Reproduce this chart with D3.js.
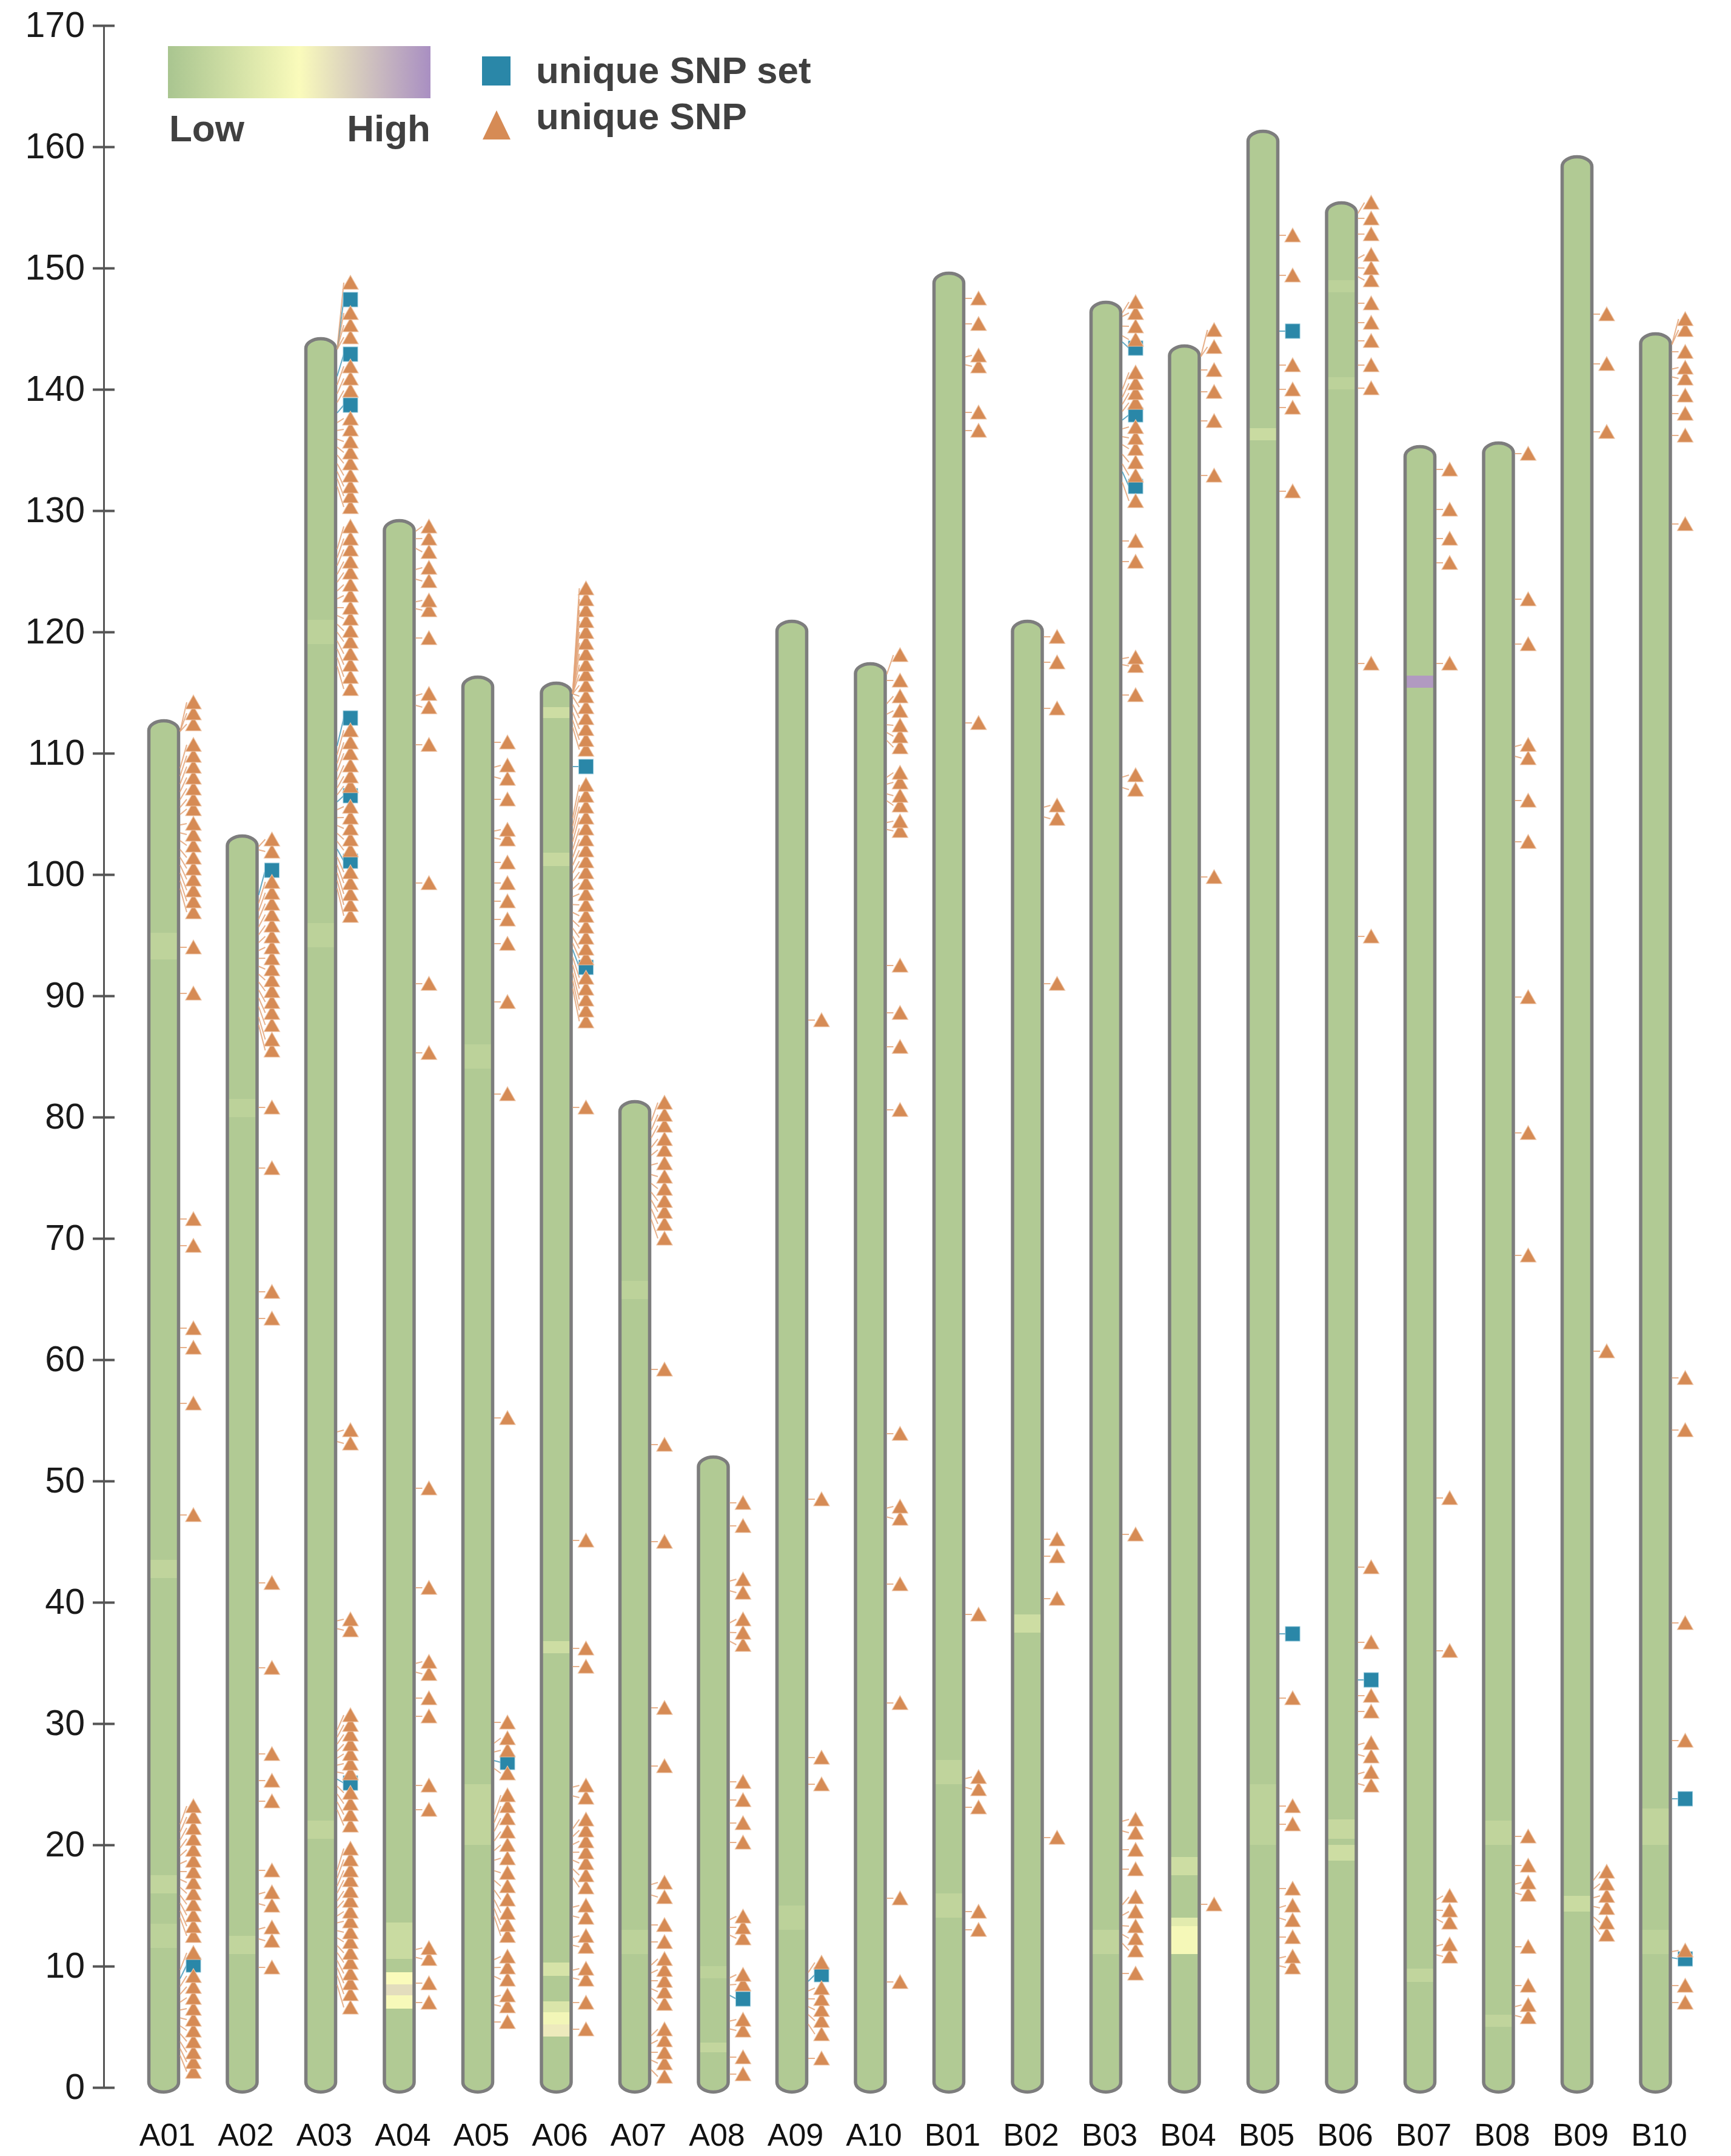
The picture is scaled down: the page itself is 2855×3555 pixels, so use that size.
<!DOCTYPE html>
<html>
<head>
<meta charset="utf-8">
<script src="https://cdnjs.cloudflare.com/ajax/libs/d3/7.8.5/d3.min.js"></script>
<style>
  body { margin: 0; background: #fff; }
  svg { display: block; }
  text { font-family: "Liberation Sans", Arial, sans-serif; }
</style>
</head>
<body>
<svg id="chart" width="2855" height="3555"></svg>
<script>
// chromosomes and their lengths (Mb)
const chromNames = ["A01","A02","A03","A04","A05","A06","A07","A08","A09","A10",
                    "B01","B02","B03","B04","B05","B06","B07","B08","B09","B10"];
const chromLengths = [112.8, 103.3, 144.3, 129.3, 116.4, 115.9, 81.4, 52.1, 121.0, 117.5,
                      149.7, 121.0, 147.3, 143.7, 161.4, 155.5, 135.4, 135.7, 159.3, 144.7];
const yTicks = [0, 10, 20, 30, 40, 50, 60, 70, 80, 90, 100, 110, 120, 130, 140, 150, 160, 170];

// unique SNP positions (triangles), as placed on the plot
const snp_A01 = [114.2, 113.3, 112.4, 110.7, 109.8, 108.9, 108.0, 107.1, 106.2, 105.4, 104.2, 103.3, 102.4,
  101.4, 100.5, 99.6, 98.7, 97.8, 96.9, 94.0, 90.2, 71.6, 69.4, 62.6, 61.0, 56.4, 47.2,
  23.2, 22.3, 21.4, 20.5, 19.6, 18.7, 17.8, 16.9, 16.0, 15.1, 14.2, 13.3, 12.5, 11.1,
  9.2, 8.3, 7.4, 6.5, 5.6, 4.7, 3.8, 2.9, 2.1, 1.3];
const snp_A02 = [102.9, 101.9, 99.4, 98.5, 97.6, 96.7, 95.8, 94.9, 94.0, 93.1, 92.2, 91.3, 90.4, 89.5,
  88.6, 87.6, 86.4, 85.5, 80.8, 75.8, 65.6, 63.4, 41.6, 34.6, 27.5, 25.3, 23.6, 17.9, 16.1, 15.0,
  13.2, 12.1, 9.9];
const snp_A03 = [148.8, 146.3, 145.3, 144.3, 141.9, 140.9, 139.9, 137.6, 136.7, 135.7, 134.8, 133.9, 132.9,
  132.0, 131.2, 130.3, 128.7, 127.7, 126.8, 125.8, 124.9, 123.9, 123.0, 122.0, 121.1, 120.1, 119.2,
  118.2, 117.3, 116.3, 115.3, 111.9, 110.9, 110.0, 109.0, 108.1, 107.3, 105.6, 104.7, 103.8, 102.9,
  102.0, 100.2, 99.3, 98.4, 97.5, 96.6, 54.2, 53.1, 38.6, 37.7, 30.7, 29.9, 29.1, 28.3, 27.5, 26.7,
  25.9, 24.3, 23.4, 22.5, 21.6, 19.7, 18.8, 17.9, 17.1, 16.2, 15.4, 14.5, 13.7, 12.8, 12.0, 11.1,
  10.3, 9.4, 8.6, 7.7, 6.6];
const snp_A04 = [128.7, 127.7, 126.6, 125.3, 124.2, 122.6, 121.8, 119.5, 114.9, 113.8, 110.7, 99.3, 91.0,
  85.3, 49.4, 41.2, 35.1, 34.1, 32.1, 30.6, 24.9, 22.9, 11.5, 10.6, 8.6, 7.0];
const snp_A05 = [110.9, 109.0, 107.9, 106.2, 103.7, 102.9, 101.0, 99.3, 97.8, 96.3, 94.3, 89.5, 81.9, 55.2,
  30.1, 28.8, 27.8, 25.9, 24.1, 23.2, 22.2, 21.1, 20.0, 18.9, 17.7, 16.6, 15.5, 14.4, 13.4, 12.5,
  10.8, 9.9, 8.9, 7.6, 6.7, 5.4];
const snp_A06 = [123.6, 122.7, 121.8, 120.9, 120.0, 119.1, 118.2, 117.3, 116.5, 115.6, 114.7, 113.8, 112.9,
  112.0, 111.1, 110.3, 107.4, 106.5, 105.6, 104.7, 103.8, 102.9, 102.0, 101.1, 100.2, 99.3, 98.4,
  97.5, 96.6, 95.7, 94.8, 93.9, 93.1, 91.5, 90.6, 89.7, 88.8, 87.9, 80.8, 45.1, 36.2, 34.7,
  24.9, 23.9, 22.1, 21.2, 20.3, 19.4, 18.5, 17.5, 16.5, 15.0, 14.0, 12.5, 11.6, 9.8, 8.9, 7.0, 4.8];
const snp_A07 = [81.2, 80.2, 79.3, 78.2, 77.3, 76.2, 75.1, 74.1, 73.1, 72.2, 71.2, 70.0, 59.2, 53.0, 45.0,
  31.3, 26.5, 16.9, 15.7, 13.4, 12.0, 10.6, 9.7, 8.8, 7.9, 6.9, 4.8, 3.9, 2.9, 2.0, 0.9];
const snp_A08 = [48.2, 46.3, 41.9, 40.8, 38.6, 37.5, 36.5, 25.2, 23.7, 21.8, 20.2, 14.1, 13.2, 12.3, 9.3,
  8.5, 5.6, 4.7, 2.5, 1.1];
const snp_A09 = [88.0, 48.5, 27.2, 25.0, 10.3, 8.2, 7.3, 6.4, 5.5, 4.4, 2.4];
const snp_A10 = [118.1, 116.0, 114.7, 113.5, 112.3, 111.4, 110.5, 108.4, 107.6, 106.5, 105.7, 104.4, 103.6,
  92.5, 88.6, 85.8, 80.6, 53.9, 47.9, 46.9, 41.5, 31.7, 15.6, 8.7];
const snp_B01 = [147.5, 145.4, 142.8, 141.9, 138.1, 136.6, 112.5, 39.0, 25.6, 24.6, 23.1, 14.5, 13.0];
const snp_B02 = [119.6, 117.5, 113.7, 105.7, 104.6, 91.0, 45.2, 43.8, 40.3, 20.6];
const snp_B03 = [147.2, 146.3, 145.2, 144.1, 141.4, 140.5, 139.7, 138.9, 136.9, 136.0, 135.1, 134.0, 132.9,
  130.8, 127.5, 125.8, 117.9, 117.2, 114.8, 108.2, 107.0, 45.6, 22.1, 21.0, 19.6, 18.0, 15.7, 14.5,
  13.3, 12.3, 11.3, 9.4];
const snp_B04 = [144.9, 143.5, 141.6, 139.8, 137.4, 132.9, 99.8, 15.1];
const snp_B05 = [152.7, 149.4, 142.0, 140.0, 138.5, 131.6, 32.1, 23.2, 21.7, 16.4, 15.0, 13.8, 12.4, 10.8, 9.9];
const snp_B06 = [155.4, 154.1, 152.8, 151.1, 150.0, 149.0, 147.1, 145.5, 144.0, 142.0, 140.1, 117.4, 94.9,
  42.9, 36.7, 32.3, 31.0, 28.4, 27.3, 26.0, 24.9];
const snp_B07 = [133.4, 130.1, 127.7, 125.7, 117.4, 48.6, 36.0, 15.8, 14.6, 13.6, 11.8, 10.8];
const snp_B08 = [134.7, 122.7, 119.0, 110.7, 109.6, 106.1, 102.7, 89.9, 78.7, 68.6, 20.7, 18.3, 16.9, 15.9,
  11.6, 8.4, 6.8, 5.8];
const snp_B09 = [146.2, 142.1, 136.5, 60.7, 17.8, 16.8, 15.8, 14.8, 13.6, 12.6];
const snp_B10 = [145.8, 144.9, 143.1, 141.8, 140.9, 139.5, 138.0, 136.2, 128.9, 58.5, 54.2, 38.3, 28.6,
  11.3, 8.4, 7.0];

// unique SNP sets (squares)
const snpSets = [
  ["A01", 10.1], ["A02", 100.35],
  ["A03", 147.4], ["A03", 142.9], ["A03", 138.7], ["A03", 112.9], ["A03", 106.5], ["A03", 101.1], ["A03", 25.1],
  ["A05", 26.8], ["A06", 108.9], ["A06", 92.35], ["A08", 7.3], ["A09", 9.3],
  ["B03", 143.4], ["B03", 137.9], ["B03", 132.0], ["B05", 144.8], ["B05", 37.4],
  ["B06", 33.6], ["B10", 23.8], ["B10", 10.6]
];

// density bands inside the chromosomes: [chrom, start, end, value 0..1]
const densityBands = [
  ["A01", 93.0, 95.2, 0.13], ["A01", 42, 43.5, 0.14], ["A01", 16, 17.5, 0.15], ["A01", 11.5, 13.5, 0.12],
  ["A02", 11, 12.5, 0.15], ["A02", 80, 81.5, 0.12],
  ["A03", 94, 96, 0.12], ["A03", 119, 121, 0.12], ["A03", 20.5, 22, 0.14],
  ["A04", 6.5, 7.6, 0.48], ["A04", 7.6, 8.5, 0.64], ["A04", 8.5, 9.5, 0.5], ["A04", 10.6, 13.6, 0.2],
  ["A05", 20, 25, 0.14], ["A05", 84, 86, 0.12],
  ["A06", 4.2, 5.2, 0.58], ["A06", 5.2, 6.2, 0.45], ["A06", 6.2, 7.1, 0.3], ["A06", 9.2, 10.3, 0.28],
  ["A06", 35.8, 36.8, 0.22], ["A06", 100.7, 101.8, 0.18], ["A06", 112.9, 113.8, 0.22],
  ["A07", 65, 66.5, 0.12], ["A07", 11, 13, 0.12],
  ["A08", 2.9, 3.7, 0.16], ["A08", 9, 10, 0.12],
  ["A09", 13, 15, 0.12],
  ["B01", 25, 27, 0.14], ["B01", 14, 16, 0.14],
  ["B02", 37.5, 39, 0.22],
  ["B03", 11, 13, 0.14],
  ["B04", 11, 13.3, 0.47], ["B04", 13.3, 14, 0.35], ["B04", 17.5, 19, 0.22],
  ["B05", 135.8, 136.8, 0.2], ["B05", 20, 25, 0.12],
  ["B06", 18.7, 20, 0.22], ["B06", 20.5, 22.1, 0.18], ["B06", 140, 141, 0.12], ["B06", 148, 149, 0.12],
  ["B07", 115.4, 116.4, 0.95], ["B07", 8.7, 9.8, 0.15],
  ["B08", 20, 22, 0.14], ["B08", 5, 6, 0.14],
  ["B09", 14.5, 15.8, 0.2],
  ["B10", 20, 23, 0.14], ["B10", 11, 13, 0.12]
];

const snpByChrom = {
  A01: snp_A01, A02: snp_A02, A03: snp_A03, A04: snp_A04, A05: snp_A05,
  A06: snp_A06, A07: snp_A07, A08: snp_A08, A09: snp_A09, A10: snp_A10,
  B01: snp_B01, B02: snp_B02, B03: snp_B03, B04: snp_B04, B05: snp_B05,
  B06: snp_B06, B07: snp_B07, B08: snp_B08, B09: snp_B09, B10: snp_B10
};

const svg = d3.select("#chart");
const y = d3.scaleLinear().domain([0, 170]).range([3442, 42]);
const x = d3.scalePoint().domain(chromNames).range([270, 2730.5]);
const heat = d3.scaleLinear().domain([0, 0.5, 1]).range(["#a9c590", "#fafbbb", "#a98fc2"]);

const chromW = 49, capRy = 16, markerDx = 49;
const triColor = "#d68b55", setColor = "#2a87a8";

const chromData = chromNames.map((name, i) => ({ name, len: chromLengths[i] }));
const lenOf = {};
chromData.forEach(d => lenOf[d.name] = d.len);

// ---- chromosomes
const defs = svg.append("defs");
chromData.forEach(d => {
  defs.append("clipPath").attr("id", "clip-" + d.name)
    .append("rect")
    .attr("x", x(d.name) - chromW / 2)
    .attr("y", y(d.len) + 2.5)
    .attr("width", chromW)
    .attr("height", (y(0) + 7.5) - (y(d.len) + 2.5))
    .attr("rx", chromW / 2).attr("ry", capRy);
});

const chromG = svg.append("g");
chromData.forEach(d => {
  const g = chromG.append("g").attr("clip-path", `url(#clip-${d.name})`);
  g.append("rect")
    .attr("x", x(d.name) - chromW / 2 - 5)
    .attr("y", y(d.len) - 5)
    .attr("width", chromW + 10)
    .attr("height", y(0) - y(d.len) + 20)
    .attr("fill", heat(0.05));
  g.selectAll("rect.band")
    .data(densityBands.filter(b => b[0] === d.name))
    .join("rect")
    .attr("class", "band")
    .attr("x", x(d.name) - chromW / 2 - 5)
    .attr("width", chromW + 10)
    .attr("y", b => y(b[2]))
    .attr("height", b => y(b[1]) - y(b[2]))
    .attr("fill", b => heat(b[3]));
  chromG.append("rect")
    .attr("x", x(d.name) - chromW / 2)
    .attr("y", y(d.len) + 2.5)
    .attr("width", chromW)
    .attr("height", (y(0) + 7.5) - (y(d.len) + 2.5))
    .attr("rx", chromW / 2).attr("ry", capRy)
    .attr("fill", "none")
    .attr("stroke", "#7d7d7d")
    .attr("stroke-width", 5.5);
});

// ---- markers with connectors
const markers = [];
chromNames.forEach(name => {
  const list = snpByChrom[name].map(p => ({ chrom: name, pos: p, type: "snp" }))
    .concat(snpSets.filter(s => s[0] === name).map(s => ({ chrom: name, pos: s[1], type: "set" })));
  list.sort((a, b) => a.pos - b.pos);
  // stacks of crowded markers fan in towards the chromosome
  let group = [];
  const flush = () => {
    const m = d3.mean(group, g => g.pos);
    group.forEach(g => {
      const s = group.length > 1 ? m + (g.pos - m) * 0.72 : g.pos;
      g.start = Math.max(0.5, Math.min(lenOf[name] - 1.0, s));
    });
    group = [];
  };
  list.forEach(d => {
    if (group.length && d.pos - group[group.length - 1].pos > 1.25) flush();
    group.push(d);
  });
  if (group.length) flush();
  markers.push(...list);
});

svg.append("g").selectAll("line")
  .data(markers)
  .join("line")
  .attr("x1", d => x(d.chrom) + chromW / 2 + 2.5)
  .attr("y1", d => y(d.start))
  .attr("x2", d => x(d.chrom) + markerDx - 11)
  .attr("y2", d => y(d.pos))
  .attr("stroke", d => d.type === "set" ? "#4a9cbc" : "#e3a479")
  .attr("stroke-width", 2)
  .attr("opacity", 0.85);

svg.append("g").selectAll("rect")
  .data(markers.filter(d => d.type === "set"))
  .join("rect")
  .attr("x", d => x(d.chrom) + markerDx - 12)
  .attr("y", d => y(d.pos) - 12)
  .attr("width", 24).attr("height", 24)
  .attr("fill", setColor)
  .attr("stroke", "#8cc4d8").attr("stroke-width", 1);

svg.append("g").selectAll("path")
  .data(markers.filter(d => d.type === "snp"))
  .join("path")
  .attr("transform", d => `translate(${x(d.chrom) + markerDx},${y(d.pos)})`)
  .attr("d", "M0,-12L13,11L-13,11Z")
  .attr("fill", triColor)
  .attr("stroke", "#ecc0a0").attr("stroke-width", 1.2);

// ---- y axis
const axis = svg.append("g")
  .attr("transform", "translate(171,0)")
  .call(d3.axisLeft(y).tickValues(yTicks).tickSize(18).tickSizeOuter(0));
axis.select(".domain").attr("stroke", "#555").attr("stroke-width", 3);
axis.selectAll(".tick line").attr("x1", 18).attr("x2", -18)
  .attr("stroke", "#555").attr("stroke-width", 4);
axis.selectAll(".tick text")
  .attr("x", -31)
  .attr("font-size", 59)
  .attr("fill", "#1a1a1a")
  .style("font-family", "'Liberation Sans', Arial, sans-serif");

// ---- chromosome names
svg.append("g").selectAll("text")
  .data(chromNames)
  .join("text")
  .attr("x", d => x(d) + 6)
  .attr("y", 3538)
  .attr("text-anchor", "middle")
  .attr("font-size", 52)
  .attr("fill", "#111")
  .text(d => d);

// ---- legend
const grad = defs.append("linearGradient").attr("id", "legendGrad");
grad.selectAll("stop")
  .data([0, 0.5, 1])
  .join("stop")
  .attr("offset", d => d * 100 + "%")
  .attr("stop-color", d => heat(d));

const legend = svg.append("g");
legend.append("rect")
  .attr("x", 277).attr("y", 76).attr("width", 433).attr("height", 86)
  .attr("fill", "url(#legendGrad)");
legend.append("text").attr("x", 279).attr("y", 233)
  .attr("font-size", 62).attr("font-weight", "bold").attr("fill", "#404040").text("Low");
legend.append("text").attr("x", 710).attr("y", 233).attr("text-anchor", "end")
  .attr("font-size", 62).attr("font-weight", "bold").attr("fill", "#404040").text("High");
legend.append("rect")
  .attr("x", 795).attr("y", 93).attr("width", 47).attr("height", 48)
  .attr("fill", setColor);
legend.append("path")
  .attr("d", "M796,230L842,230L819,182Z")
  .attr("fill", triColor);
legend.append("text").attr("x", 884).attr("y", 137)
  .attr("font-size", 62).attr("font-weight", "bold").attr("fill", "#404040").text("unique SNP set");
legend.append("text").attr("x", 884).attr("y", 213)
  .attr("font-size", 62).attr("font-weight", "bold").attr("fill", "#404040").text("unique SNP");
</script>
</body>
</html>
